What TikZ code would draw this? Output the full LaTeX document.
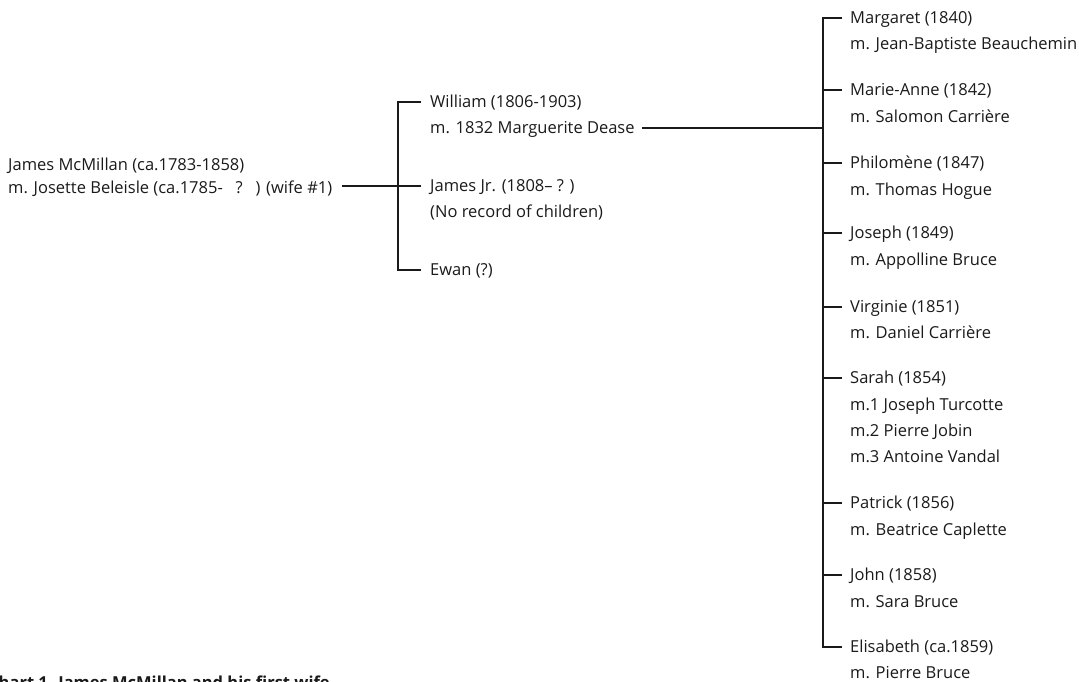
\documentclass[tikz,border=0pt]{standalone}
\usepackage{fontspec}
\setmainfont{Open Sans}
\begin{document}
\begin{tikzpicture}[x=1pt,y=-1pt]
\definecolor{ink}{HTML}{1A1A1A}
\tikzset{
  txt/.style={anchor=west, inner sep=0pt, text=ink, font=\fontsize{16.5}{19}\selectfont, text height=11.5pt, text depth=0pt},
  captiontxt/.style={anchor=base west, inner sep=0pt, text=ink, font=\fontsize{16.5}{19}\selectfont\bfseries},
  link/.style={draw=ink, line width=1.2pt}
}
\useasboundingbox (0,0) rectangle (1079,682);
% generation 1
\node[txt] (james)   at (8,165) {James McMillan (ca.1783-1858)};
\node[txt] (josette) at (8,188) {m. Josette Beleisle (ca.1785-\ \ \ ?\ \ \ ) (wife \#1)};
% generation 2
\node[txt] (william)  at (430,102) {William (1806-1903)};
\node[txt] (dease)    at (430,128) {m. 1832 Marguerite Dease};
\node[txt] (jamesjr)  at (430,186) {James Jr. (1808\textendash\ ? )};
\node[txt] (norecord) at (430,212) {(No record of children)};
\node[txt] (ewan)     at (430,270) {Ewan (?)};
% generation 3
\node[txt] (margaret)   at (850,18)  {Margaret (1840)};
\node[txt] (margaretm)  at (850,44)  {m. Jean-Baptiste Beauchemin};
\node[txt] (marieanne)  at (850,90)  {Marie-Anne (1842)};
\node[txt] (marieannem) at (850,117) {m. Salomon Carrière};
\node[txt] (philomene)  at (850,163) {Philomène (1847)};
\node[txt] (philomenem) at (850,190) {m. Thomas Hogue};
\node[txt] (joseph)     at (850,233) {Joseph (1849)};
\node[txt] (josephm)    at (850,260) {m. Appolline Bruce};
\node[txt] (virginie)   at (850,307) {Virginie (1851)};
\node[txt] (virginiem)  at (850,333) {m. Daniel Carrière};
\node[txt] (sarah)      at (850,378) {Sarah (1854)};
\node[txt] (saraha)     at (850,405) {m.1 Joseph Turcotte};
\node[txt] (sarahb)     at (850,431) {m.2 Pierre Jobin};
\node[txt] (sarahc)     at (850,457) {m.3 Antoine Vandal};
\node[txt] (patrick)    at (850,503) {Patrick (1856)};
\node[txt] (patrickm)   at (850,530) {m. Beatrice Caplette};
\node[txt] (john)       at (850,575) {John (1858)};
\node[txt] (johnm)      at (850,602) {m. Sara Bruce};
\node[txt] (elisabeth)  at (850,647) {Elisabeth (ca.1859)};
\node[txt] (elisabethm) at (850,673) {m. Pierre Bruce};
% caption (cut by the page edge, as in the reference)
\node[captiontxt] (caption) at (-12,688) {Chart 1. James McMillan and his first wife};
% bars
\coordinate (b2) at (398,0);
\coordinate (b3) at (823,0);
% gen 1 -> gen 2
\draw[link] ([xshift=10pt]josette.east |- jamesjr.west) -- ([xshift=-9pt]jamesjr.west);
\draw[link] ([xshift=-9pt]william.west) -- (william.west -| b2) -- (ewan.west -| b2) -- ([xshift=-9pt]ewan.west);
% gen 2 -> gen 3
\draw[link] ([xshift=7pt]dease.east) -- (dease.east -| b3);
\draw[link] ([xshift=-8pt]margaret.west) -- (margaret.west -| b3) -- (elisabeth.west -| b3) -- ([xshift=-8pt]elisabeth.west);
\foreach \n in {marieanne,philomene,joseph,virginie,sarah,patrick,john}
  \draw[link] (\n.west -| b3) -- ([xshift=-8pt]\n.west);
\end{tikzpicture}
\end{document}
